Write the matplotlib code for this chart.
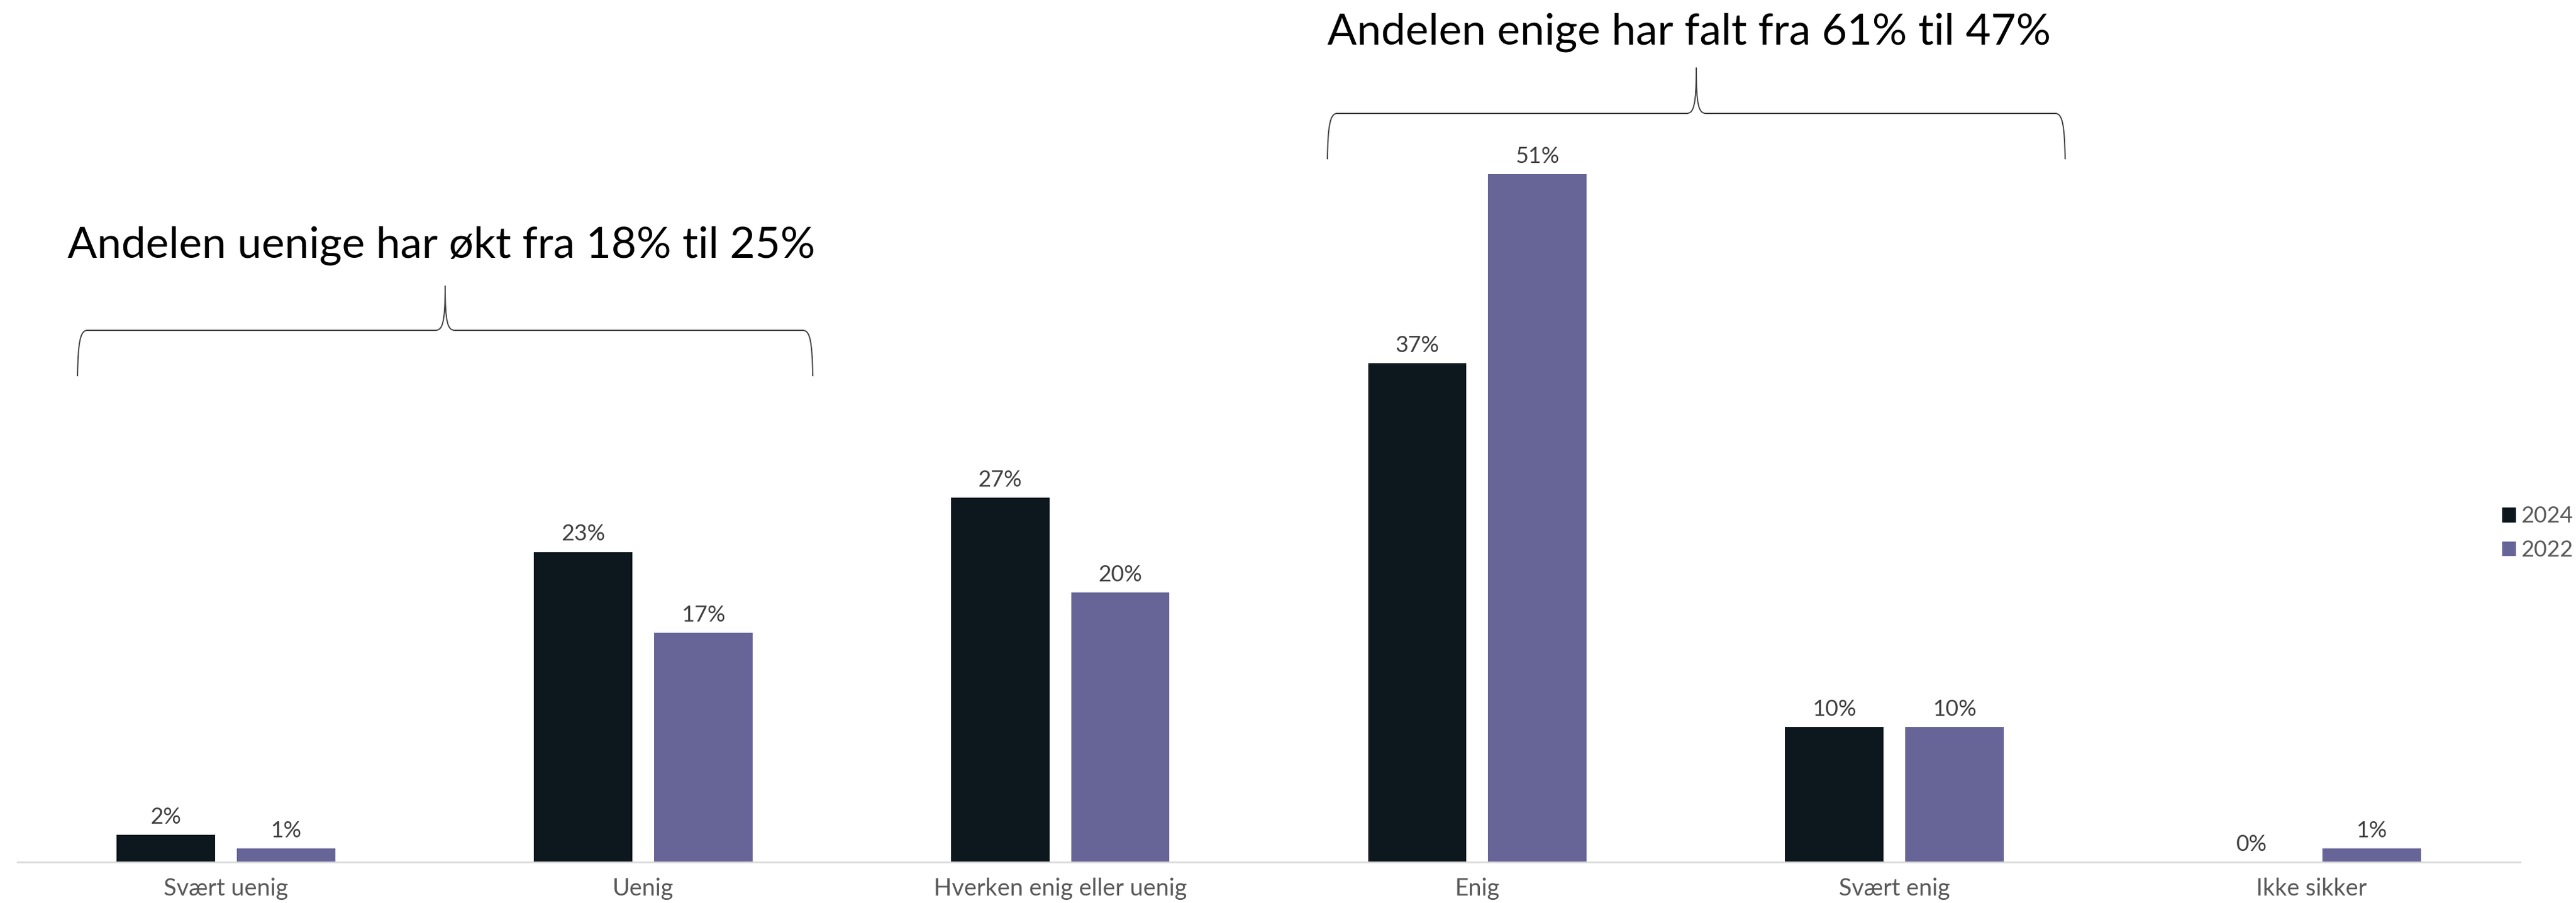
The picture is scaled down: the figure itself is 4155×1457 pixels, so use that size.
import numpy as np
import matplotlib.pyplot as plt
from matplotlib.path import Path
from matplotlib.patches import PathPatch, Patch

# Svar fordelt på kategori, andel i prosent
kategorier = ['Svært uenig', 'Uenig', 'Hverken enig eller uenig', 'Enig', 'Svært enig', 'Ikke sikker']
andel_2024 = [2, 23, 27, 37, 10, 0]
andel_2022 = [1, 17, 20, 51, 10, 1]
serier = ['2024', '2022']

farge_2024 = '#0c181d'
farge_2022 = '#676598'

plt.rcParams['font.family'] = ['Lato', 'DejaVu Sans']

W, H = 4155, 1457
fig = plt.figure(figsize=(W / 100, H / 100), dpi=100)

# hovedaksen: grunnlinje ved y=1391 px, 21.76 px per prosentpoeng
ax = fig.add_axes([28 / W, (H - 1391) / H, (4065 - 28) / W, 1391 / H])
x = np.arange(len(kategorier))
bredde = 0.236
avstand = 0.144

b1 = ax.bar(x - avstand, andel_2024, bredde, color=farge_2024, label=serier[0])
b2 = ax.bar(x + avstand, andel_2022, bredde, color=farge_2022, label=serier[1])

for bars, verdier in [(b1, andel_2024), (b2, andel_2022)]:
    for rect, v in zip(bars, verdier):
        ax.annotate(f'{v}%', (rect.get_x() + rect.get_width() / 2, rect.get_height()),
                    xytext=(0, 13), textcoords='offset points', ha='center', va='baseline',
                    fontsize=26, color='#404040')

ax.set_xlim(-0.5, len(kategorier) - 0.5)
ax.set_ylim(0, 1391 / 21.76)
ax.set_xticks(x)
ax.set_xticklabels(kategorier, fontsize=27.5, color='#595959')
ax.tick_params(axis='x', length=0, pad=18)
ax.set_yticks([])
for s in ['top', 'right', 'left']:
    ax.spines[s].set_visible(False)
ax.spines['bottom'].set_color('#d9d9d9')
ax.spines['bottom'].set_linewidth(2)
ax.patch.set_alpha(0)

ax.legend(handles=[Patch(color=farge_2024), Patch(color=farge_2022)], labels=serier,
          loc='center left', bbox_to_anchor=(4018 / W, (H - 860) / H),
          bbox_transform=fig.transFigure, frameon=False, fontsize=26,
          handlelength=0.58, handleheight=0.58, handletextpad=0.25,
          labelspacing=0.6, borderpad=0, labelcolor='#595959')

# overlegg i pikselkoordinater for klammer og tekst
ov = fig.add_axes([0, 0, 1, 1], zorder=5)
ov.set_xlim(0, W)
ov.set_ylim(H, 0)
ov.axis('off')


def klamme(x0, x1, y_spiss, y_linje, y_topp):
    xm = (x0 + x1) / 2
    verts = [
        (x0, y_spiss), (x0 + 1, y_linje + 20), (x0 + 4, y_linje), (x0 + 16, y_linje),
        (xm - 16, y_linje),
        (xm - 4, y_linje), (xm, y_linje - 12), (xm, y_topp),
        (xm, y_linje - 12), (xm + 4, y_linje), (xm + 16, y_linje),
        (x1 - 16, y_linje),
        (x1 - 4, y_linje), (x1 - 1, y_linje + 20), (x1, y_spiss),
    ]
    codes = [Path.MOVETO, Path.CURVE4, Path.CURVE4, Path.CURVE4,
             Path.LINETO,
             Path.CURVE4, Path.CURVE4, Path.CURVE4,
             Path.CURVE4, Path.CURVE4, Path.CURVE4,
             Path.LINETO,
             Path.CURVE4, Path.CURVE4, Path.CURVE4]
    ov.add_patch(PathPatch(Path(verts, codes), fill=False, edgecolor='#404040', lw=1.4))


klamme(125, 1311, 607, 533, 461)
klamme(2141, 3331, 257, 183, 109)

ov.text(109, 416, 'Andelen uenige har økt fra 18% til 25%', fontsize=50.5,
        color='black', ha='left', va='baseline')
ov.text(2141, 72, 'Andelen enige har falt fra 61% til 47%', fontsize=50.5,
        color='black', ha='left', va='baseline')

fig.savefig('out.png', dpi=100)
